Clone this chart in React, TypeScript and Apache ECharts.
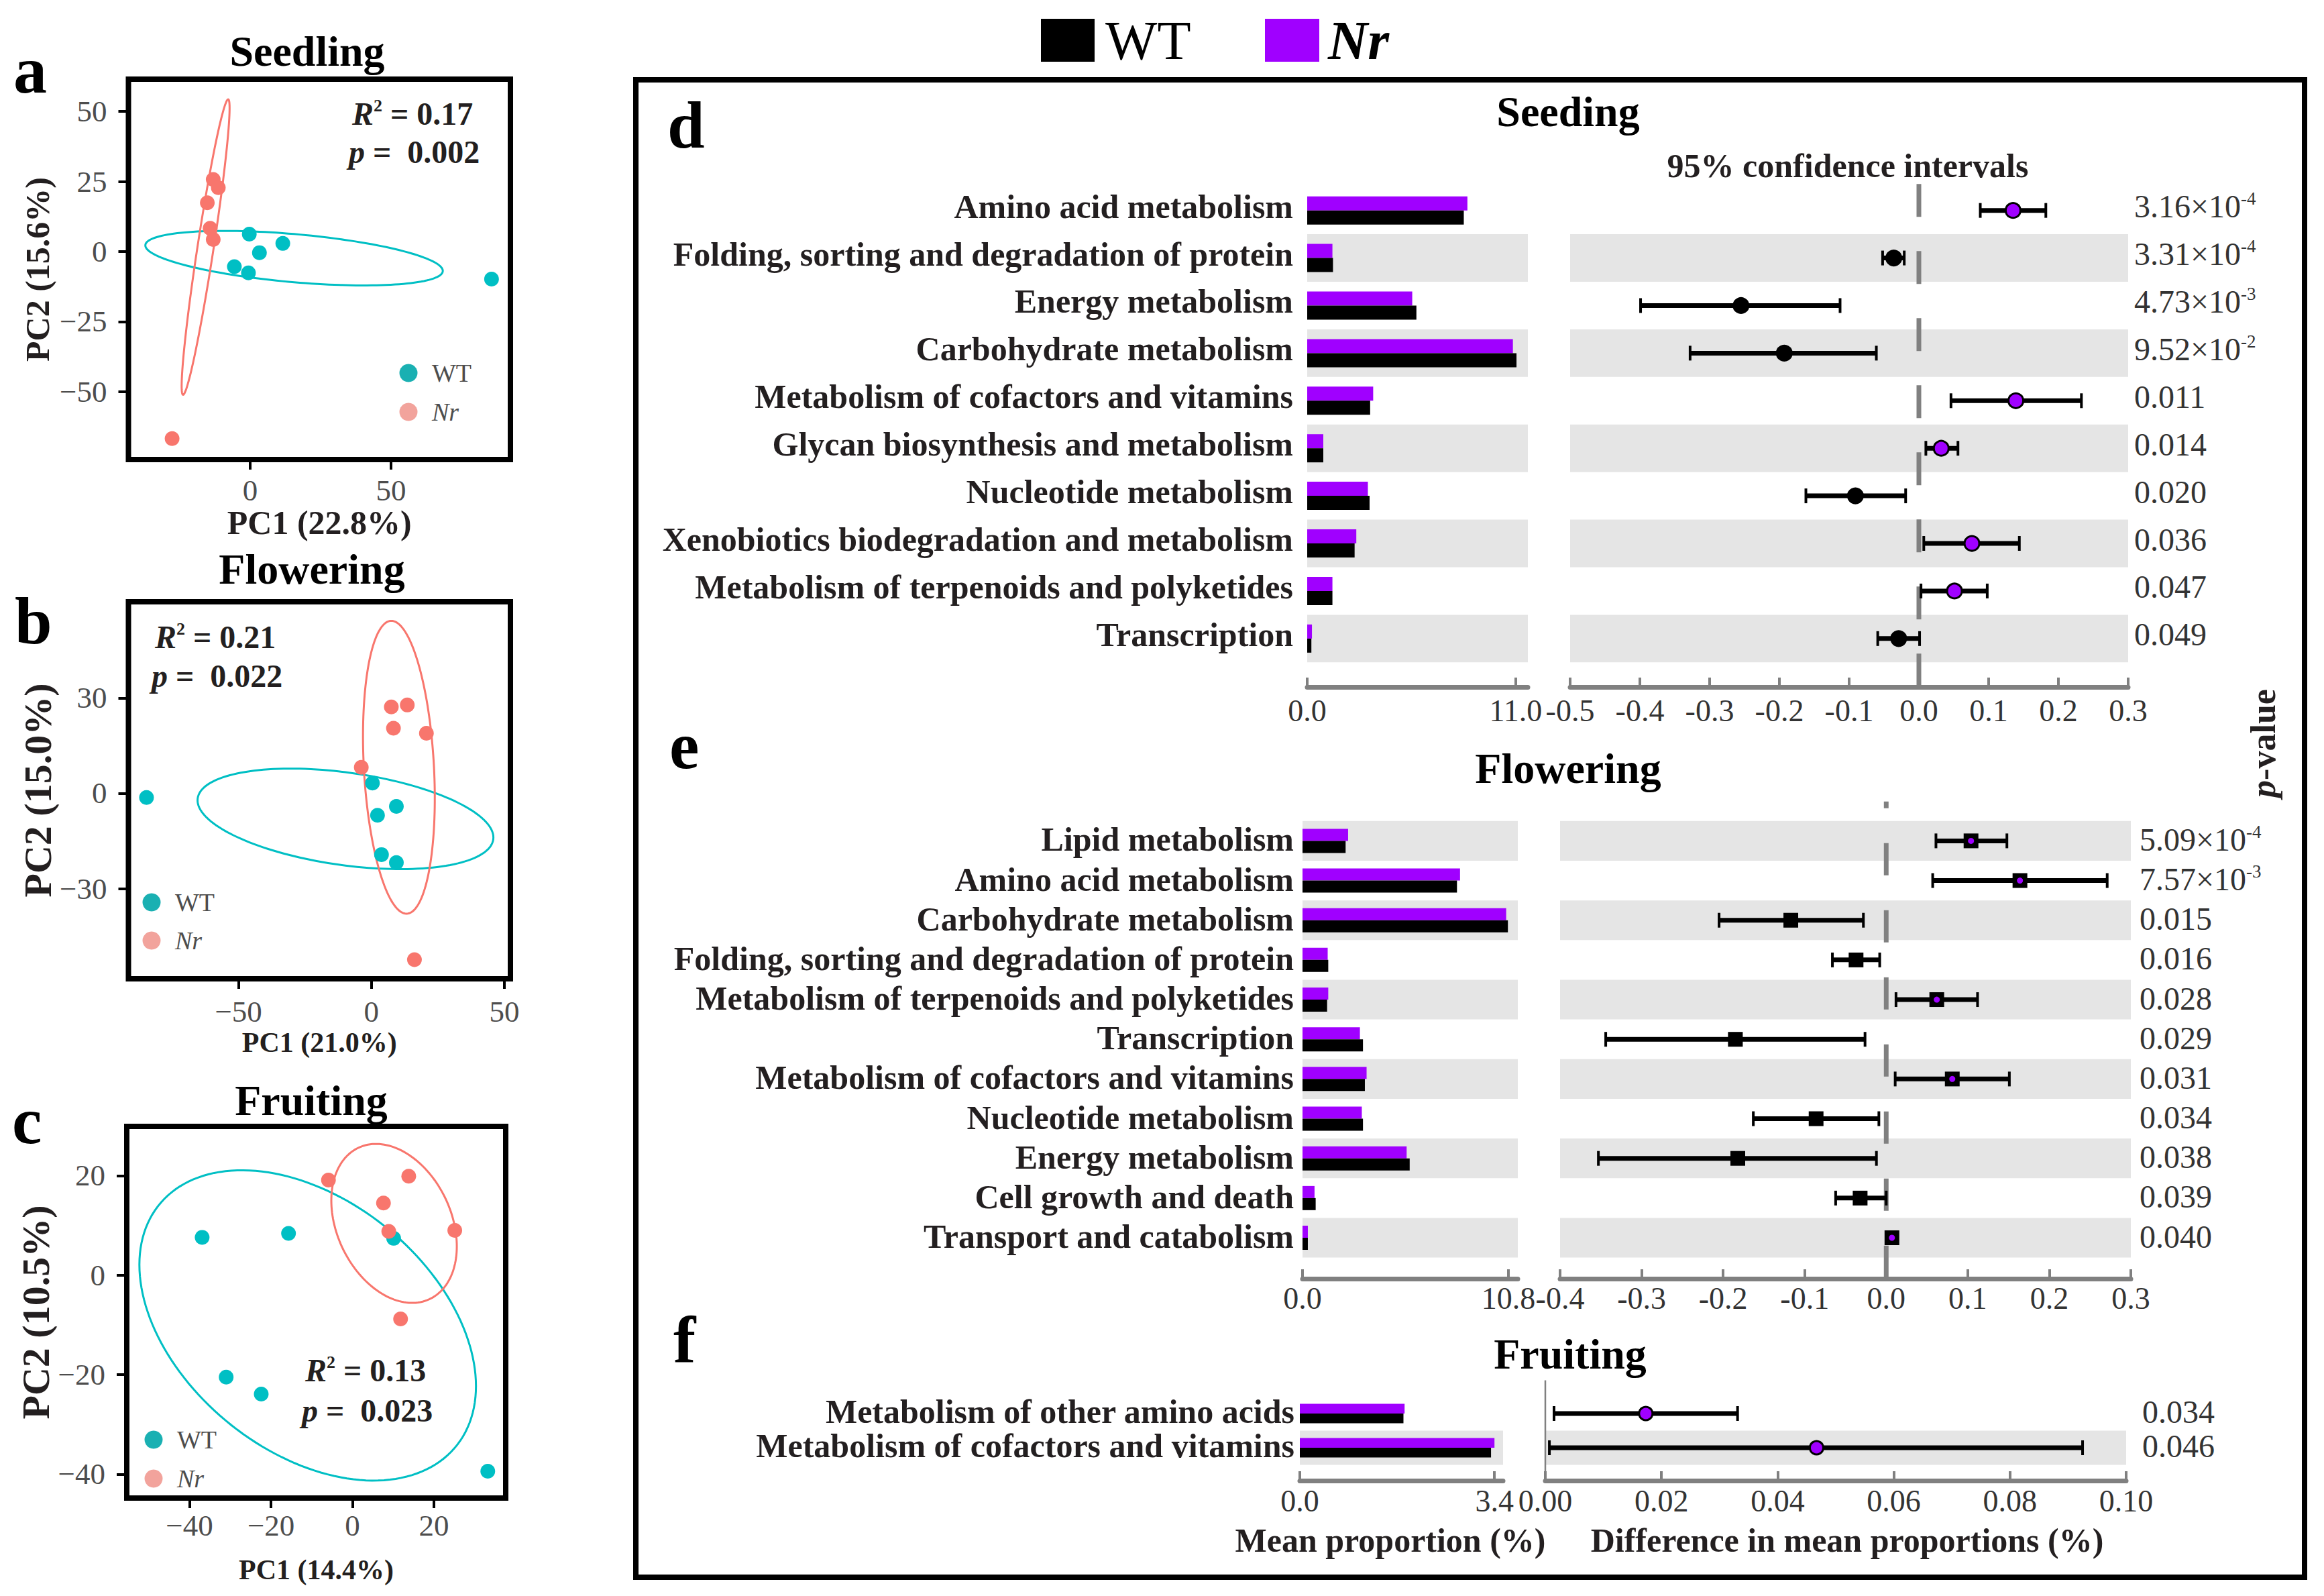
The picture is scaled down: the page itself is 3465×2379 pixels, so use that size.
import React, { useEffect, useRef } from 'react';
import * as echarts from 'echarts';

const FONT = "'Liberation Serif', 'Times New Roman', Times, serif";
const INK = '#231F20';
const TEAL = '#00BFC4';
const SALMON = '#F8766D';
const PURPLE = '#A000FF';
const BAND = '#E5E5E5';
const AXIS_GREY = '#808080';

// ---------------- PCA data (panels a–c) ----------------
const seedlingWT = [[-0.3, 6.2], [11.6, 2.9], [3.3, -0.4], [-5.6, -5.4], [-0.6, -7.6], [85.7, -9.8]];
const seedlingNr = [[-13.1, 25.7], [-11.3, 22.8], [-15.2, 17.4], [-14.2, 8.3], [-13.1, 4.3], [-27.7, -66.7]];
const floweringWT = [[0.4, 3.2], [9.4, -4.1], [2.3, -6.9], [3.8, -19.3], [9.4, -21.8], [-84.6, -1.3]];
const floweringNr = [[7.5, 27.2], [13.5, 27.8], [8.3, 20.5], [20.7, 18.9], [-3.8, 8.2], [16.2, -52.4]];
const fruitingWT = [[-36.9, 7.6], [-15.7, 8.4], [10.1, 7.4], [-31.0, -20.5], [-22.4, -23.9], [33.2, -39.4]];
const fruitingNr = [[-5.9, 19.1], [13.8, 19.9], [7.6, 14.5], [8.9, 8.8], [25.1, 9.0], [11.8, -8.8]];

// confidence ellipses: centre x, centre y, conjugate semi-diameter u (dx, dy), v (dx, dy)
const seedlingEllWT = [15.6, -2.35, 52.8, -4.55, 0, 8.6];
const seedlingEllNr = [-15.8, 1.6, 8, 52.7, 2.9, 0];
const floweringEllWT = [-9.75, -8.05, 55.65, -5.85, 0, 14.7];
const floweringEllNr = [10.35, 8.2, -2.85, 46.1, 13.2, 0];
const fruitingEllWT = [-11, -10.1, 41.3, -12.2, 0, 28.7];
const fruitingEllNr = [10.2, 10.4, 15.4, -4.6, 0, 15.3];

const seedlingXTicks = [0, 50];
const seedlingYTicks = [-50, -25, 0, 25, 50];
const floweringXTicks = [-50, 0, 50];
const floweringYTicks = [-30, 0, 30];
const fruitingXTicks = [-40, -20, 0, 20];
const fruitingYTicks = [-40, -20, 0, 20];

// ---------------- STAMP data (panels d–f) ----------------
const seedCats = [
  'Amino acid metabolism',
  'Folding, sorting and degradation of protein',
  'Energy metabolism',
  'Carbohydrate metabolism',
  'Metabolism of cofactors and vitamins',
  'Glycan biosynthesis and metabolism',
  'Nucleotide metabolism',
  'Xenobiotics biodegradation and metabolism',
  'Metabolism of terpenoids and polyketides',
  'Transcription',
];
const seedNr = [8.45, 1.33, 5.54, 10.85, 3.48, 0.85, 3.2, 2.59, 1.33, 0.25];
const seedWT = [8.26, 1.36, 5.76, 11.04, 3.32, 0.85, 3.29, 2.5, 1.33, 0.22];
const seedDiff = [0.135, -0.036, -0.255, -0.193, 0.139, 0.032, -0.091, 0.076, 0.051, -0.029];
const seedLo = [0.088, -0.052, -0.399, -0.328, 0.046, 0.01, -0.162, 0.007, 0.003, -0.059];
const seedHi = [0.182, -0.021, -0.113, -0.061, 0.233, 0.056, -0.019, 0.144, 0.098, 0.001];
const seedP = ['3.16×10^-4', '3.31×10^-4', '4.73×10^-3', '9.52×10^-2', '0.011', '0.014', '0.020', '0.036', '0.047', '0.049'];
const seedBarTicks = [0, 11.0];

const flowCats = [
  'Lipid metabolism',
  'Amino acid metabolism',
  'Carbohydrate metabolism',
  'Folding, sorting and degradation of protein',
  'Metabolism of terpenoids and polyketides',
  'Transcription',
  'Metabolism of cofactors and vitamins',
  'Nucleotide metabolism',
  'Energy metabolism',
  'Cell growth and death',
  'Transport and catabolism',
];
const flowNr = [2.39, 8.26, 10.68, 1.32, 1.35, 3.01, 3.36, 3.11, 5.46, 0.63, 0.28];
const flowWT = [2.26, 8.1, 10.77, 1.35, 1.29, 3.17, 3.27, 3.17, 5.62, 0.69, 0.28];
const flowDiff = [0.104, 0.164, -0.117, -0.037, 0.062, -0.185, 0.081, -0.086, -0.182, -0.032, 0.007];
const flowLo = [0.061, 0.057, -0.205, -0.066, 0.012, -0.344, 0.011, -0.163, -0.353, -0.062, 0.005];
const flowHi = [0.148, 0.271, -0.028, -0.008, 0.112, -0.026, 0.151, -0.009, -0.012, 0.0, 0.009];
const flowP = ['5.09×10^-4', '7.57×10^-3', '0.015', '0.016', '0.028', '0.029', '0.031', '0.034', '0.038', '0.039', '0.040'];
const flowBarTicks = [0, 10.8];

const fruitCats = ['Metabolism of other amino acids', 'Metabolism of cofactors and vitamins'];
const fruitNr = [1.83, 3.4];
const fruitWT = [1.81, 3.34];
const fruitDiff = [0.0173, 0.0467];
const fruitLo = [0.0015, 0.0007];
const fruitHi = [0.0331, 0.0925];
const fruitP = ['0.034', '0.046'];
const fruitBarTicks = [0, 3.4];

// ---------------- helpers ----------------
const minusFmt = (v: number) => (v < 0 ? '\u2212' + Math.abs(v) : String(v));
const fmtP = (s: string) => {
  const [m, e] = s.split('^');
  return e ? `{n|${m}}{s|${e}}` : `{n|${m}}`;
};

const ellipseRender = (color: string) => (params: any, api: any) => {
  const cx = api.value(0);
  const cy = api.value(1);
  const c = api.coord([cx, cy]);
  const u = api.coord([cx + api.value(2), cy + api.value(3)]);
  const v = api.coord([cx + api.value(4), cy + api.value(5)]);
  const pts: number[][] = [];
  const n = 160;
  for (let k = 0; k < n; k++) {
    const t = (k / n) * Math.PI * 2;
    pts.push([
      c[0] + Math.cos(t) * (u[0] - c[0]) + Math.sin(t) * (v[0] - c[0]),
      c[1] + Math.cos(t) * (u[1] - c[1]) + Math.sin(t) * (v[1] - c[1]),
    ]);
  }
  return { type: 'polygon', shape: { points: pts }, style: { fill: 'none', stroke: color, lineWidth: 3 } };
};

const bandRender = (params: any, api: any) => {
  const cs = params.coordSys;
  const y = api.coord([api.value(0), api.value(1)])[1];
  const h = api.size([0, 1])[1];
  return { type: 'rect', shape: { x: cs.x, y: y - h / 2, width: cs.width, height: h }, style: { fill: BAND } };
};

const zeroRender = (L: any) => (params: any, api: any) => {
  const cs = params.coordSys;
  const x = api.coord([0, 0])[0];
  return {
    type: 'line',
    shape: { x1: x, y1: cs.y - L.zeroExt, x2: x, y2: cs.y + cs.height + L.axisOff },
    style: { stroke: AXIS_GREY, lineWidth: L.zeroW, lineDash: L.zeroDash, lineDashOffset: L.zeroDashOffset },
  };
};

const ciRender = (L: any) => (params: any, api: any) => {
  const idx = api.value(0);
  const m = api.value(1);
  const c = api.coord([m, idx]);
  const l = api.coord([api.value(2), idx]);
  const h = api.coord([api.value(3), idx]);
  const y = c[1];
  const up = m > 0;
  const children: any[] = [
    { type: 'line', shape: { x1: l[0], y1: y, x2: h[0], y2: y }, style: { stroke: '#000', lineWidth: 7 } },
    { type: 'line', shape: { x1: l[0], y1: y - 11, x2: l[0], y2: y + 11 }, style: { stroke: '#000', lineWidth: 4 } },
    { type: 'line', shape: { x1: h[0], y1: y - 11, x2: h[0], y2: y + 11 }, style: { stroke: '#000', lineWidth: 4 } },
  ];
  if (L.marker === 'square') {
    children.push({ type: 'rect', shape: { x: c[0] - 11, y: y - 11, width: 22, height: 22 }, style: { fill: '#000' } });
    if (up) children.push({ type: 'circle', shape: { cx: c[0], cy: y, r: 4.5 }, style: { fill: PURPLE } });
  } else {
    children.push({
      type: 'circle',
      shape: { cx: c[0], cy: y, r: L.markerR },
      style: { fill: up ? PURPLE : '#000', stroke: '#000', lineWidth: 3 },
    });
  }
  return { type: 'group', children };
};

const txt = (x: number, y: number, text: string, o: any = {}, extra: any = {}) => ({
  type: 'text',
  x,
  y,
  z: 100,
  ...extra,
  style: {
    text,
    fontFamily: FONT,
    fontSize: 50,
    fontWeight: 'bold',
    fill: INK,
    align: 'center',
    verticalAlign: 'middle',
    textAlign: 'center',
    textVerticalAlign: 'middle',
    ...o,
  },
});

// ---------------- panel layouts ----------------
const pcaPanels = [
  {
    letter: 'a', title: 'Seedling', wt: seedlingWT, nr: seedlingNr, ellWT: seedlingEllWT, ellNr: seedlingEllNr,
    xTicks: seedlingXTicks, yTicks: seedlingYTicks, xRange: [-43.2, 92.4], yRange: [-74.2, 61.5],
    xName: 'PC1 (22.8%)', yName: 'PC2 (15.6%)', r2: '0.17', p: '0.002',
    box: { left: 191.5, top: 118, width: 569.5, height: 567 },
    xNameSize: 50, yNameSize: 50, xNameGap: 63, yNameGap: 111, xLabelMargin: 23,
    letterPos: [20, 104], titlePos: [458, 76], r2Pos: [525, 169], pPos: [520, 226],
    legend: { cx: 609, y1: 556, y2: 614, tx: 644 },
  },
  {
    letter: 'b', title: 'Flowering', wt: floweringWT, nr: floweringNr, ellWT: floweringEllWT, ellNr: floweringEllNr,
    xTicks: floweringXTicks, yTicks: floweringYTicks, xRange: [-91.4, 52.3], yRange: [-58.4, 60.3],
    xName: 'PC1 (21.0%)', yName: 'PC2 (15.0%)', r2: '0.21', p: '0.022',
    box: { left: 191.5, top: 897, width: 569.5, height: 562 },
    xNameSize: 42, yNameSize: 58, xNameGap: 74, yNameGap: 89, xLabelMargin: 26,
    letterPos: [22, 925], titlePos: [465, 848], r2Pos: [231, 949], pPos: [226, 1007],
    legend: { cx: 226, y1: 1345, y2: 1402, tx: 261 },
  },
  {
    letter: 'c', title: 'Fruiting', wt: fruitingWT, nr: fruitingNr, ellWT: fruitingEllWT, ellNr: fruitingEllNr,
    xTicks: fruitingXTicks, yTicks: fruitingYTicks, xRange: [-55.4, 37.6], yRange: [-44.8, 29.9],
    xName: 'PC1 (14.4%)', yName: 'PC2 (10.5%)', r2: '0.13', p: '0.023',
    box: { left: 189, top: 1679, width: 565, height: 554 },
    xNameSize: 42, yNameSize: 58, xNameGap: 86, yNameGap: 99, xLabelMargin: 18,
    letterPos: [18, 1670], titlePos: [464, 1640], r2Pos: [455, 2042], pPos: [450, 2102],
    legend: { cx: 229, y1: 2146, y2: 2204, tx: 264 },
  },
];

const stampPanels = [
  {
    cats: seedCats, nr: seedNr, wt: seedWT, diff: seedDiff, lo: seedLo, hi: seedHi, p: seedP, barTicks: seedBarTicks,
    L: {
      barLeft: 1949, barRight: 2278, ciLeft: 2341, ciRight: 3173, top: 278.2, bottom: 987.3, axisOff: 36.7,
      barMax: 11.64, ciMin: -0.5, ciMax: 0.3, ciInterval: 0.1, ciDigits: 1, barW: 21, catMargin: 21, pMargin: 9,
      labelMargin: 12, marker: 'circle', markerR: 11, bandParity: 1, textLift: 12,
      zeroExt: 4, zeroW: 7, zeroDash: [49, 51], zeroDashOffset: 0,
    },
  },
  {
    cats: flowCats, nr: flowNr, wt: flowWT, diff: flowDiff, lo: flowLo, hi: flowHi, p: flowP, barTicks: flowBarTicks,
    L: {
      barLeft: 1942, barRight: 2263, ciLeft: 2326, ciRight: 3177, top: 1223.8, bottom: 1874.6, axisOff: 31.4,
      barMax: 11.29, ciMin: -0.4, ciMax: 0.3, ciInterval: 0.1, ciDigits: 1, barW: 18, catMargin: 13, pMargin: 13,
      labelMargin: 6, marker: 'square', markerR: 11, bandParity: 0, textLift: 4,
      zeroExt: 29, zeroW: 7, zeroDash: [48, 52], zeroDashOffset: 38,
    },
  },
  {
    cats: fruitCats, nr: fruitNr, wt: fruitWT, diff: fruitDiff, lo: fruitLo, hi: fruitHi, p: fruitP, barTicks: fruitBarTicks,
    L: {
      barLeft: 1938, barRight: 2241, ciLeft: 2304, ciRight: 3170, top: 2081.5, bottom: 2183.5, axisOff: 23.5,
      barMax: 3.55, ciMin: 0, ciMax: 0.1, ciInterval: 0.02, ciDigits: 2, barW: 14.5, catMargin: 8, pMargin: 24,
      labelMargin: 7, marker: 'circle', markerR: 10, bandParity: 1, textLift: 6,
      zeroExt: 24, zeroW: 2.5, zeroDash: null, zeroDashOffset: 0,
    },
  },
];

function buildOption() {
  const grid: any[] = [];
  const xAxis: any[] = [];
  const yAxis: any[] = [];
  const series: any[] = [];
  const graphic: any[] = [];

  // ---------- PCA panels ----------
  pcaPanels.forEach((p) => {
    grid.push({ ...p.box, show: true, borderColor: '#000', borderWidth: 8, backgroundColor: 'transparent', containLabel: false });
    const gi = grid.length - 1;
    xAxis.push({
      type: 'value', gridIndex: gi, min: p.xRange[0], max: p.xRange[1], position: 'bottom',
      axisLine: { show: false, onZero: false }, splitLine: { show: false },
      axisTick: { show: true, length: 15, lineStyle: { color: '#000', width: 4 }, customValues: p.xTicks },
      axisLabel: { customValues: p.xTicks, formatter: minusFmt, color: '#4D4D4D', fontFamily: FONT, fontSize: 45, margin: p.xLabelMargin },
      name: p.xName, nameLocation: 'middle', nameGap: p.xNameGap,
      nameTextStyle: { fontFamily: FONT, fontWeight: 'bold', fontSize: p.xNameSize, color: INK },
    });
    const xi = xAxis.length - 1;
    yAxis.push({
      type: 'value', gridIndex: gi, min: p.yRange[0], max: p.yRange[1], position: 'left',
      axisLine: { show: false, onZero: false }, splitLine: { show: false },
      axisTick: { show: true, length: 15, lineStyle: { color: '#000', width: 4 }, customValues: p.yTicks },
      axisLabel: { customValues: p.yTicks, formatter: minusFmt, color: '#4D4D4D', fontFamily: FONT, fontSize: 45, margin: 32 },
      name: p.yName, nameLocation: 'middle', nameGap: p.yNameGap, nameRotate: 90,
      nameTextStyle: { fontFamily: FONT, fontWeight: 'bold', fontSize: p.yNameSize, color: INK },
    });
    const yi = yAxis.length - 1;
    series.push({
      type: 'custom', name: 'WT ellipse', xAxisIndex: xi, yAxisIndex: yi, data: [p.ellWT],
      encode: { x: 0, y: 1 }, renderItem: ellipseRender(TEAL), silent: true, z: 2,
    });
    series.push({
      type: 'custom', name: 'Nr ellipse', xAxisIndex: xi, yAxisIndex: yi, data: [p.ellNr],
      encode: { x: 0, y: 1 }, renderItem: ellipseRender(SALMON), silent: true, z: 2,
    });
    series.push({
      type: 'scatter', name: 'WT samples', xAxisIndex: xi, yAxisIndex: yi, data: p.wt,
      symbolSize: 22, itemStyle: { color: TEAL, opacity: 1 }, z: 3, silent: true,
    });
    series.push({
      type: 'scatter', name: 'Nr samples', xAxisIndex: xi, yAxisIndex: yi, data: p.nr,
      symbolSize: 22, itemStyle: { color: SALMON, opacity: 1 }, z: 3, silent: true,
    });

    graphic.push(txt(p.letterPos[0], p.letterPos[1], p.letter, { fontSize: 100, align: 'left', textAlign: 'left', fill: '#000' }));
    graphic.push(txt(p.titlePos[0], p.titlePos[1], p.title, { fontSize: 64, fill: '#000' }));
    const rich = {
      i: { fontStyle: 'italic', fontWeight: 'bold', fontSize: 48, fontFamily: FONT, fill: INK, color: INK, lineHeight: 50 },
      s: { fontWeight: 'bold', fontSize: 26, fontFamily: FONT, fill: INK, color: INK, verticalAlign: 'top', lineHeight: 26 },
      n: { fontWeight: 'bold', fontSize: 48, fontFamily: FONT, fill: INK, color: INK, lineHeight: 50 },
    };
    graphic.push(txt(p.r2Pos[0], p.r2Pos[1], `{i|R}{s|2}{n| = ${p.r2}}`, { rich, align: 'left', textAlign: 'left' }));
    graphic.push(txt(p.pPos[0], p.pPos[1], `{i|p}{n| =  ${p.p}}`, { rich, align: 'left', textAlign: 'left' }));
    const lg = p.legend;
    graphic.push({ type: 'circle', z: 100, shape: { cx: lg.cx, cy: lg.y1, r: 13.5 }, style: { fill: '#1AB0B2' } });
    graphic.push({ type: 'circle', z: 100, shape: { cx: lg.cx, cy: lg.y2, r: 13.5 }, style: { fill: '#F2A39C' } });
    graphic.push(txt(lg.tx, lg.y1, 'WT', { fontSize: 38, fontWeight: 'normal', fill: '#4D4D4D', align: 'left', textAlign: 'left' }));
    graphic.push(txt(lg.tx, lg.y2, 'Nr', { fontSize: 38, fontWeight: 'normal', fontStyle: 'italic', fill: '#4D4D4D', align: 'left', textAlign: 'left' }));
  });

  // ---------- STAMP panels ----------
  stampPanels.forEach((sp) => {
    const L = sp.L;
    const labelStyle = { color: '#333', fontFamily: FONT, fontSize: 46, margin: L.labelMargin };
    // bar grid
    grid.push({ left: L.barLeft, top: L.top, width: L.barRight - L.barLeft, height: L.bottom - L.top });
    const gBar = grid.length - 1;
    xAxis.push({
      type: 'value', gridIndex: gBar, min: 0, max: L.barMax, offset: L.axisOff, splitLine: { show: false },
      axisLine: { show: true, onZero: false, lineStyle: { color: AXIS_GREY, width: 7 } },
      axisTick: { show: true, inside: true, length: 14, lineStyle: { color: AXIS_GREY, width: 4 }, customValues: sp.barTicks },
      axisLabel: { ...labelStyle, customValues: sp.barTicks, formatter: (v: number) => v.toFixed(1) },
    });
    const xBar = xAxis.length - 1;
    yAxis.push({
      type: 'category', gridIndex: gBar, data: sp.cats, inverse: true,
      axisLine: { show: false }, axisTick: { show: false }, splitLine: { show: false },
      axisLabel: {
        interval: 0, margin: L.catMargin, formatter: (v: string) => `{c|${v}}`,
        rich: {
          c: { fontFamily: FONT, fontWeight: 'bold', fontSize: 50, color: INK, lineHeight: 54, padding: [0, 0, L.textLift, 0] },
        },
      },
    });
    const yBar = yAxis.length - 1;

    // CI grid
    grid.push({ left: L.ciLeft, top: L.top, width: L.ciRight - L.ciLeft, height: L.bottom - L.top });
    const gCi = grid.length - 1;
    xAxis.push({
      type: 'value', gridIndex: gCi, min: L.ciMin, max: L.ciMax, interval: L.ciInterval, offset: L.axisOff,
      splitLine: { show: false },
      axisLine: { show: true, onZero: false, lineStyle: { color: AXIS_GREY, width: 7 } },
      axisTick: { show: true, inside: true, length: 14, lineStyle: { color: AXIS_GREY, width: 4 } },
      axisLabel: { ...labelStyle, formatter: (v: number) => v.toFixed(L.ciDigits) },
    });
    const xCi = xAxis.length - 1;
    yAxis.push({ type: 'category', gridIndex: gCi, data: sp.cats, inverse: true, show: false });
    const yCi = yAxis.length - 1;
    yAxis.push({
      type: 'category', gridIndex: gCi, data: sp.p, inverse: true, position: 'right',
      axisLine: { show: false }, axisTick: { show: false }, splitLine: { show: false },
      axisLabel: {
        interval: 0, margin: L.pMargin, formatter: fmtP, padding: [0, 0, L.textLift, 0],
        rich: {
          n: { fontFamily: FONT, fontSize: 48, color: '#333', lineHeight: 50 },
          s: { fontFamily: FONT, fontSize: 27, color: '#333', verticalAlign: 'top', lineHeight: 26 },
        },
      },
    });

    const bandData = sp.cats.map((_, i) => i).filter((i) => i % 2 === L.bandParity).map((i) => [0, i]);
    series.push({ type: 'custom', name: 'band', xAxisIndex: xBar, yAxisIndex: yBar, data: bandData, encode: { x: 0, y: 1 }, renderItem: bandRender, silent: true, z: 1 });
    series.push({ type: 'custom', name: 'band', xAxisIndex: xCi, yAxisIndex: yCi, data: bandData, encode: { x: 0, y: 1 }, renderItem: bandRender, silent: true, z: 1 });
    series.push({
      type: 'bar', name: 'Nr', xAxisIndex: xBar, yAxisIndex: yBar, data: sp.nr,
      barWidth: L.barW, barGap: '0%', itemStyle: { color: PURPLE }, z: 3, silent: true,
    });
    series.push({
      type: 'bar', name: 'WT', xAxisIndex: xBar, yAxisIndex: yBar, data: sp.wt,
      barWidth: L.barW, barGap: '0%', itemStyle: { color: '#000' }, z: 3, silent: true,
    });
    series.push({ type: 'custom', name: 'zero', xAxisIndex: xCi, yAxisIndex: yCi, data: [[0, 0]], encode: { x: 0, y: 1 }, renderItem: zeroRender(L), silent: true, z: 2 });
    series.push({
      type: 'custom', name: 'CI', xAxisIndex: xCi, yAxisIndex: yCi,
      data: sp.diff.map((d, i) => [i, d, sp.lo[i], sp.hi[i]]),
      encode: { x: [1, 2, 3], y: 0 }, renderItem: ciRender(L), silent: true, z: 4,
    });
  });

  // ---------- right box, legend, titles ----------
  graphic.push({ type: 'rect', z: 90, shape: { x: 948, y: 119, width: 2488, height: 2232 }, style: { fill: 'none', stroke: '#000', lineWidth: 8 } });
  graphic.push({ type: 'rect', z: 100, shape: { x: 1552, y: 28, width: 80, height: 64 }, style: { fill: '#000' } });
  graphic.push(txt(1648, 60, 'WT', { fontSize: 82, fontWeight: 'normal', fill: '#000', align: 'left', textAlign: 'left' }));
  graphic.push({ type: 'rect', z: 100, shape: { x: 1886, y: 28, width: 81, height: 64 }, style: { fill: PURPLE } });
  graphic.push(txt(1980, 60, 'Nr', { fontSize: 82, fontStyle: 'italic', fill: '#000', align: 'left', textAlign: 'left' }));

  graphic.push(txt(995, 186, 'd', { fontSize: 100, fill: '#000', align: 'left', textAlign: 'left' }));
  graphic.push(txt(998, 1111, 'e', { fontSize: 100, fill: '#000', align: 'left', textAlign: 'left' }));
  graphic.push(txt(1004, 1997, 'f', { fontSize: 100, fill: '#000', align: 'left', textAlign: 'left' }));

  graphic.push(txt(2338, 166, 'Seeding', { fontSize: 64, fill: '#000' }));
  graphic.push(txt(2338, 1145, 'Flowering', { fontSize: 64, fill: '#000' }));
  graphic.push(txt(2341, 2018, 'Fruiting', { fontSize: 64, fill: '#000' }));
  graphic.push(txt(2755, 247, '95% confidence intervals', { fontSize: 50 }));
  graphic.push(txt(2073, 2296, 'Mean proportion (%)', { fontSize: 50 }));
  graphic.push(txt(2754, 2296, 'Difference in mean proportions (%)', { fontSize: 50 }));
  graphic.push(
    txt(3374, 1108, '{i|p}{n|-value}', {
      fontSize: 52,
      rich: {
        i: { fontStyle: 'italic', fontWeight: 'bold', fontSize: 52, fontFamily: FONT, fill: INK, color: INK },
        n: { fontWeight: 'bold', fontSize: 52, fontFamily: FONT, fill: INK, color: INK },
      },
    }, { rotation: Math.PI / 2 })
  );

  return {
    animation: false,
    backgroundColor: '#ffffff',
    grid,
    xAxis,
    yAxis,
    series,
    graphic: { elements: graphic },
  };
}

export default function App() {
  const ref = useRef<HTMLDivElement>(null);
  useEffect(() => {
    if (!ref.current) return;
    const chart = echarts.init(ref.current, null, { renderer: 'svg' });
    chart.setOption(buildOption() as any);
    return () => chart.dispose();
  }, []);
  return (
    <div
      ref={ref}
      style={{ position: 'absolute', left: 0, top: 0, width: 3465, height: 2379, background: '#fff' }}
    />
  );
}
